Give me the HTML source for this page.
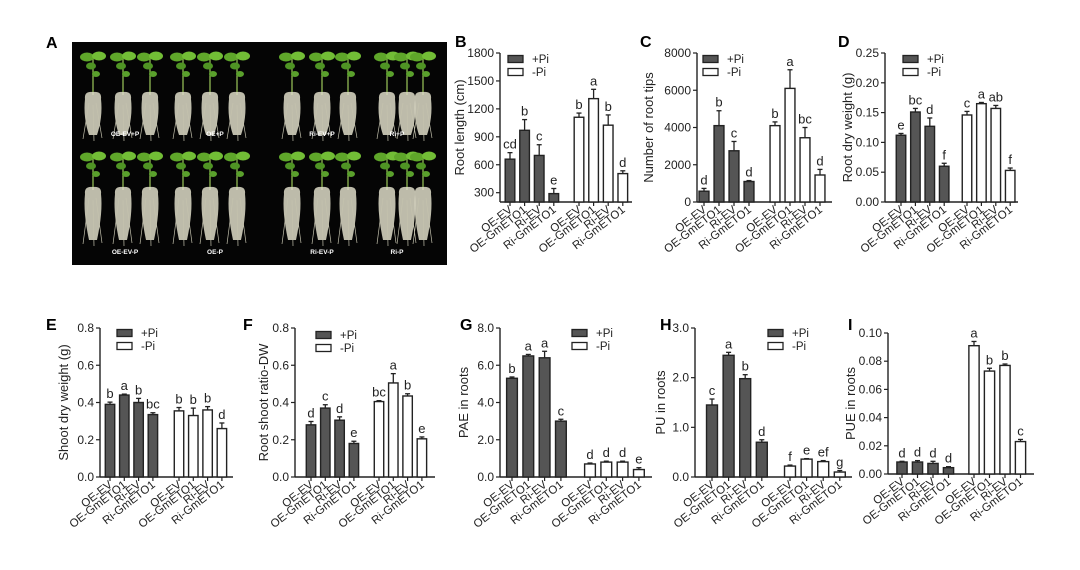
<!DOCTYPE html>
<html><head><meta charset="utf-8">
<style>
html,body{margin:0;padding:0;background:#fff;}
svg{display:block;font-family:"Liberation Sans",Arial,sans-serif;}
</style></head>
<body>
<svg id="fig" width="1080" height="570" viewBox="0 0 1080 570" xmlns="http://www.w3.org/2000/svg">
<rect width="1080" height="570" fill="#fff"/>
<g id="photo">
<rect x="72" y="42" width="375" height="223" fill="#050505"/>
</g>
<text x="46" y="48" font-size="16" font-weight="bold">A</text>
</svg>
<script>
// ---- Panel data ----
const cats = ["OE-EV","OE-GmETO1","Ri-EV","Ri-GmETO1"];
const bPlus=[660,970,700,290], bPlusErr=[70,115,115,55], bMinus=[1110,1310,1025,505], bMinusErr=[45,100,110,30];
const bLetters=["cd","b","c","e","b","a","b","d"], bTicks=[300,600,900,1200,1500,1800];
const cPlus=[580,4100,2750,1100], cPlusErr=[150,800,500,50], cMinus=[4100,6100,3450,1450], cMinusErr=[200,1000,550,300];
const cLetters=["d","b","c","d","b","a","bc","d"], cTicks=[0,2000,4000,6000,8000];
const dPlus=[0.112,0.151,0.127,0.060], dPlusErr=[0.003,0.006,0.014,0.005], dMinus=[0.146,0.165,0.157,0.053], dMinusErr=[0.006,0.002,0.005,0.004];
const dLetters=["e","bc","d","f","c","a","ab","f"], dTicks=[0,0.05,0.10,0.15,0.20,0.25];
const ePlus=[0.39,0.44,0.40,0.335], ePlusErr=[0.012,0.005,0.022,0.01], eMinus=[0.355,0.33,0.36,0.26], eMinusErr=[0.018,0.04,0.018,0.03];
const eLetters=["b","a","b","bc","b","b","b","d"], eTicks=[0,0.2,0.4,0.6,0.8];
const fPlus=[0.28,0.37,0.305,0.18], fPlusErr=[0.018,0.018,0.018,0.012], fMinus=[0.405,0.505,0.435,0.205], fMinusErr=[0.005,0.05,0.012,0.01];
const fLetters=["d","c","d","e","bc","a","b","e"], fTicks=[0,0.2,0.4,0.6,0.8];
const gPlus=[5.3,6.5,6.4,3.0], gPlusErr=[0.07,0.08,0.35,0.1], gMinus=[0.7,0.8,0.8,0.4], gMinusErr=[0.05,0.05,0.05,0.1];
const gLetters=["b","a","a","c","d","d","d","e"], gTicks=[0,2,4,6,8];
const hPlus=[1.45,2.45,1.98,0.70], hPlusErr=[0.12,0.06,0.08,0.05], hMinus=[0.22,0.36,0.31,0.10], hMinusErr=[0.02,0.01,0.02,0.03];
const hLetters=["c","a","b","d","f","e","ef","g"], hTicks=[0,1,2,3];
const iPlus=[0.0085,0.0085,0.0075,0.0045], iPlusErr=[0.0005,0.001,0.0015,0.0007], iMinus=[0.091,0.073,0.077,0.023], iMinusErr=[0.003,0.002,0.001,0.0015];
const iLetters=["d","d","d","d","a","b","b","c"], iTicks=[0,0.02,0.04,0.06,0.08,0.10];

const NS="http://www.w3.org/2000/svg";
const svg=document.getElementById('fig');
function mk(tag,attrs,parent,txt){const e=document.createElementNS(NS,tag);for(const k in attrs)e.setAttribute(k,attrs[k]);if(txt!==undefined)e.textContent=txt;(parent||svg).appendChild(e);return e;}

// ---- Photo plants (decorative) ----
(function(){
  const g=document.getElementById('photo');
  const xs=[93,123,150,183,210,237,292,322,348,387,407,423];
  [[60,95,135],[160,190,240]].forEach((r,ri)=>{
    xs.forEach((x,i)=>{
      const p=mk('g',{},g);
      
      
      mk('line',{x1:x,y1:r[0]-4,x2:x,y2:r[1],stroke:'#9cc85a','stroke-width':1.2},p);
      mk('ellipse',{cx:x-6,cy:r[0]-3,rx:7,ry:4.5,fill:'#5fa62a'},p);
      mk('ellipse',{cx:x+6,cy:r[0]-4,rx:7,ry:4.5,fill:'#72bd36'},p);
      mk('ellipse',{cx:x-2,cy:r[0]+6,rx:5,ry:3.5,fill:'#4f9424'},p);
      mk('ellipse',{cx:x+3,cy:r[0]+14,rx:4,ry:3,fill:'#5aa02c'},p);
      mk('path',{d:`M${x-8},${r[1]+4} Q${x-9},${r[1]-4} ${x},${r[1]-3} Q${x+9},${r[1]-4} ${x+8},${r[1]+4} Q${x+10},${r[1]+22} ${x+4},${r[2]} L${x-4},${r[2]} Q${x-10},${r[1]+22} ${x-8},${r[1]+4} Z`,fill:'#dedcc8',opacity:0.85},p);
      mk('path',{d:`M${x-4},${r[1]+8} L${x-10},${r[2]+4} M${x+3},${r[1]+8} L${x+9},${r[2]+3} M${x},${r[1]+10} L${x+1},${r[2]+6}`,stroke:'#c4c2ae','stroke-width':0.7,fill:'none'},p);
    });
  });
  const labs=[["OE-EV+P",125,136],["OE+P",215,136],["Ri-EV+P",322,136],["Ri+P",397,136],["OE-EV-P",125,254],["OE-P",215,254],["Ri-EV-P",322,254],["Ri-P",397,254]];
  labs.forEach(l=>{
    const t=mk('text',{x:l[1],y:l[2],'font-size':6.5,fill:'#fff','text-anchor':'middle','font-weight':'bold'},g,l[0]);
    
    
  });
})();

function panel(o){
  const g=mk('g',{});
  
  
  const y=v=>o.bot-(v-o.min)/(o.max-o.min)*(o.bot-o.top);
  const lab=mk('text',{x:o.lx,y:o.ly,'font-size':16,'font-weight':'bold'},g,o.id.toUpperCase());
  
  
  const ya=mk('line',{x1:o.ax,y1:o.top,x2:o.ax,y2:o.bot,stroke:'#222','stroke-width':1.4},g);
  
  
  const xa=mk('line',{x1:o.ax,y1:o.bot,x2:o.end,y2:o.bot,stroke:'#222','stroke-width':1.4},g);
  
  
  o.ticks.forEach(t=>{
    mk('line',{x1:o.ax-4,y1:y(t),x2:o.ax,y2:y(t),stroke:'#222','stroke-width':1.2},g);
    const tl=mk('text',{x:o.ax-6,y:y(t)+4,'font-size':12,'text-anchor':'end',fill:'#222'},g,t.toFixed(o.dec));
    
    
  });
  const cy=(o.top+o.bot)/2;
  const yt=mk('text',{x:o.tx,y:cy,'font-size':13,'text-anchor':'middle',fill:'#222',transform:`rotate(-90 ${o.tx} ${cy})`},g,o.title);
  
  
  const bw=o.step*0.66;
  const series=[[o.plus,o.plusErr,'#555',o.g1],[o.minus,o.minusErr,'#fff',o.g2]];
  series.forEach((s,si)=>{
    s[0].forEach((v,i)=>{
      const cx=s[3]+i*o.step;
      const top=y(v), et=y(v+s[1][i]);
      mk('line',{x1:cx,y1:top,x2:cx,y2:et,stroke:'#222','stroke-width':1.3},g);
      mk('line',{x1:cx-2.5,y1:et,x2:cx+2.5,y2:et,stroke:'#222','stroke-width':1.3},g);
      const r=mk('rect',{x:cx-bw/2,y:top,width:bw,height:o.bot-top,fill:s[2],stroke:'#222','stroke-width':1.4},g);
      
      
      mk('line',{x1:cx,y1:o.bot,x2:cx,y2:o.bot+4,stroke:'#222','stroke-width':1.2},g);
      const lt=mk('text',{x:cx,y:et-4,'font-size':13,'text-anchor':'middle',fill:'#222'},g,o.letters[si*4+i]);
      
      
      const lx=cx+3,ly=o.bot+9;
      const xl=mk('text',{x:lx,y:ly,'font-size':11.5,'text-anchor':'end',fill:'#222',transform:`rotate(-38 ${lx} ${ly})`},g,cats[i]);
      
      
    });
  });
  if(o.leg){
    [['+Pi','#555'],['-Pi','#fff']].forEach((l,k)=>{
      const ly=o.leg[1]+k*13;
      const sw=mk('rect',{x:o.leg[0],y:ly-3.5,width:15,height:7,fill:l[1],stroke:'#222','stroke-width':1.3},g);
      
      
      const lt=mk('text',{x:o.leg[0]+24,y:ly+4,'font-size':11.5,fill:'#222'},g,l[0]);
      
      
    });
  }
}
panel({id:'b',lx:455,ly:47,ax:500,end:632,top:53,bot:202,min:200,max:1800,ticks:bTicks,dec:0,g1:510,g2:579,step:14.6,plus:bPlus,plusErr:bPlusErr,minus:bMinus,minusErr:bMinusErr,letters:bLetters,tx:464,title:'Root length (cm)',leg:[508,59]});
panel({id:'c',lx:640,ly:47,ax:697,end:832,top:53,bot:202,min:0,max:8000,ticks:cTicks,dec:0,g1:704,g2:775,step:15,plus:cPlus,plusErr:cPlusErr,minus:cMinus,minusErr:cMinusErr,letters:cLetters,tx:653,title:'Number of root tips',leg:[703,59]});
panel({id:'d',lx:838,ly:47,ax:885,end:1018,top:53,bot:202,min:0,max:0.25,ticks:dTicks,dec:2,g1:901,g2:967,step:14.4,plus:dPlus,plusErr:dPlusErr,minus:dMinus,minusErr:dMinusErr,letters:dLetters,tx:852,title:'Root dry weight (g)',leg:[903,59]});
panel({id:'e',lx:46,ly:330,ax:100,end:233,top:328,bot:477,min:0,max:0.8,ticks:eTicks,dec:1,g1:110,g2:179,step:14.3,plus:ePlus,plusErr:ePlusErr,minus:eMinus,minusErr:eMinusErr,letters:eLetters,tx:68,title:'Shoot dry weight (g)',leg:[117,333]});
panel({id:'f',lx:243,ly:330,ax:295,end:435,top:328,bot:477,min:0,max:0.8,ticks:fTicks,dec:1,g1:311,g2:379,step:14.3,plus:fPlus,plusErr:fPlusErr,minus:fMinus,minusErr:fMinusErr,letters:fLetters,tx:268,title:'Root shoot ratio-DW',leg:[316,335]});
panel({id:'g',lx:460,ly:330,ax:500,end:652,top:328,bot:477,min:0,max:8,ticks:gTicks,dec:1,g1:512,g2:590,step:16.3,plus:gPlus,plusErr:gPlusErr,minus:gMinus,minusErr:gMinusErr,letters:gLetters,tx:468,title:'PAE in roots',leg:[572,333]});
panel({id:'h',lx:660,ly:330,ax:695,end:852,top:328,bot:477,min:0,max:3,ticks:hTicks,dec:1,g1:712,g2:790,step:16.6,plus:hPlus,plusErr:hPlusErr,minus:hMinus,minusErr:hMinusErr,letters:hLetters,tx:665,title:'PU in roots',leg:[768,333]});
panel({id:'i',lx:848,ly:330,ax:888,end:1034,top:333,bot:474,min:0,max:0.10,ticks:iTicks,dec:2,g1:902,g2:974,step:15.5,plus:iPlus,plusErr:iPlusErr,minus:iMinus,minusErr:iMinusErr,letters:iLetters,tx:855,title:'PUE in roots',leg:null});
</script>
</body></html>
